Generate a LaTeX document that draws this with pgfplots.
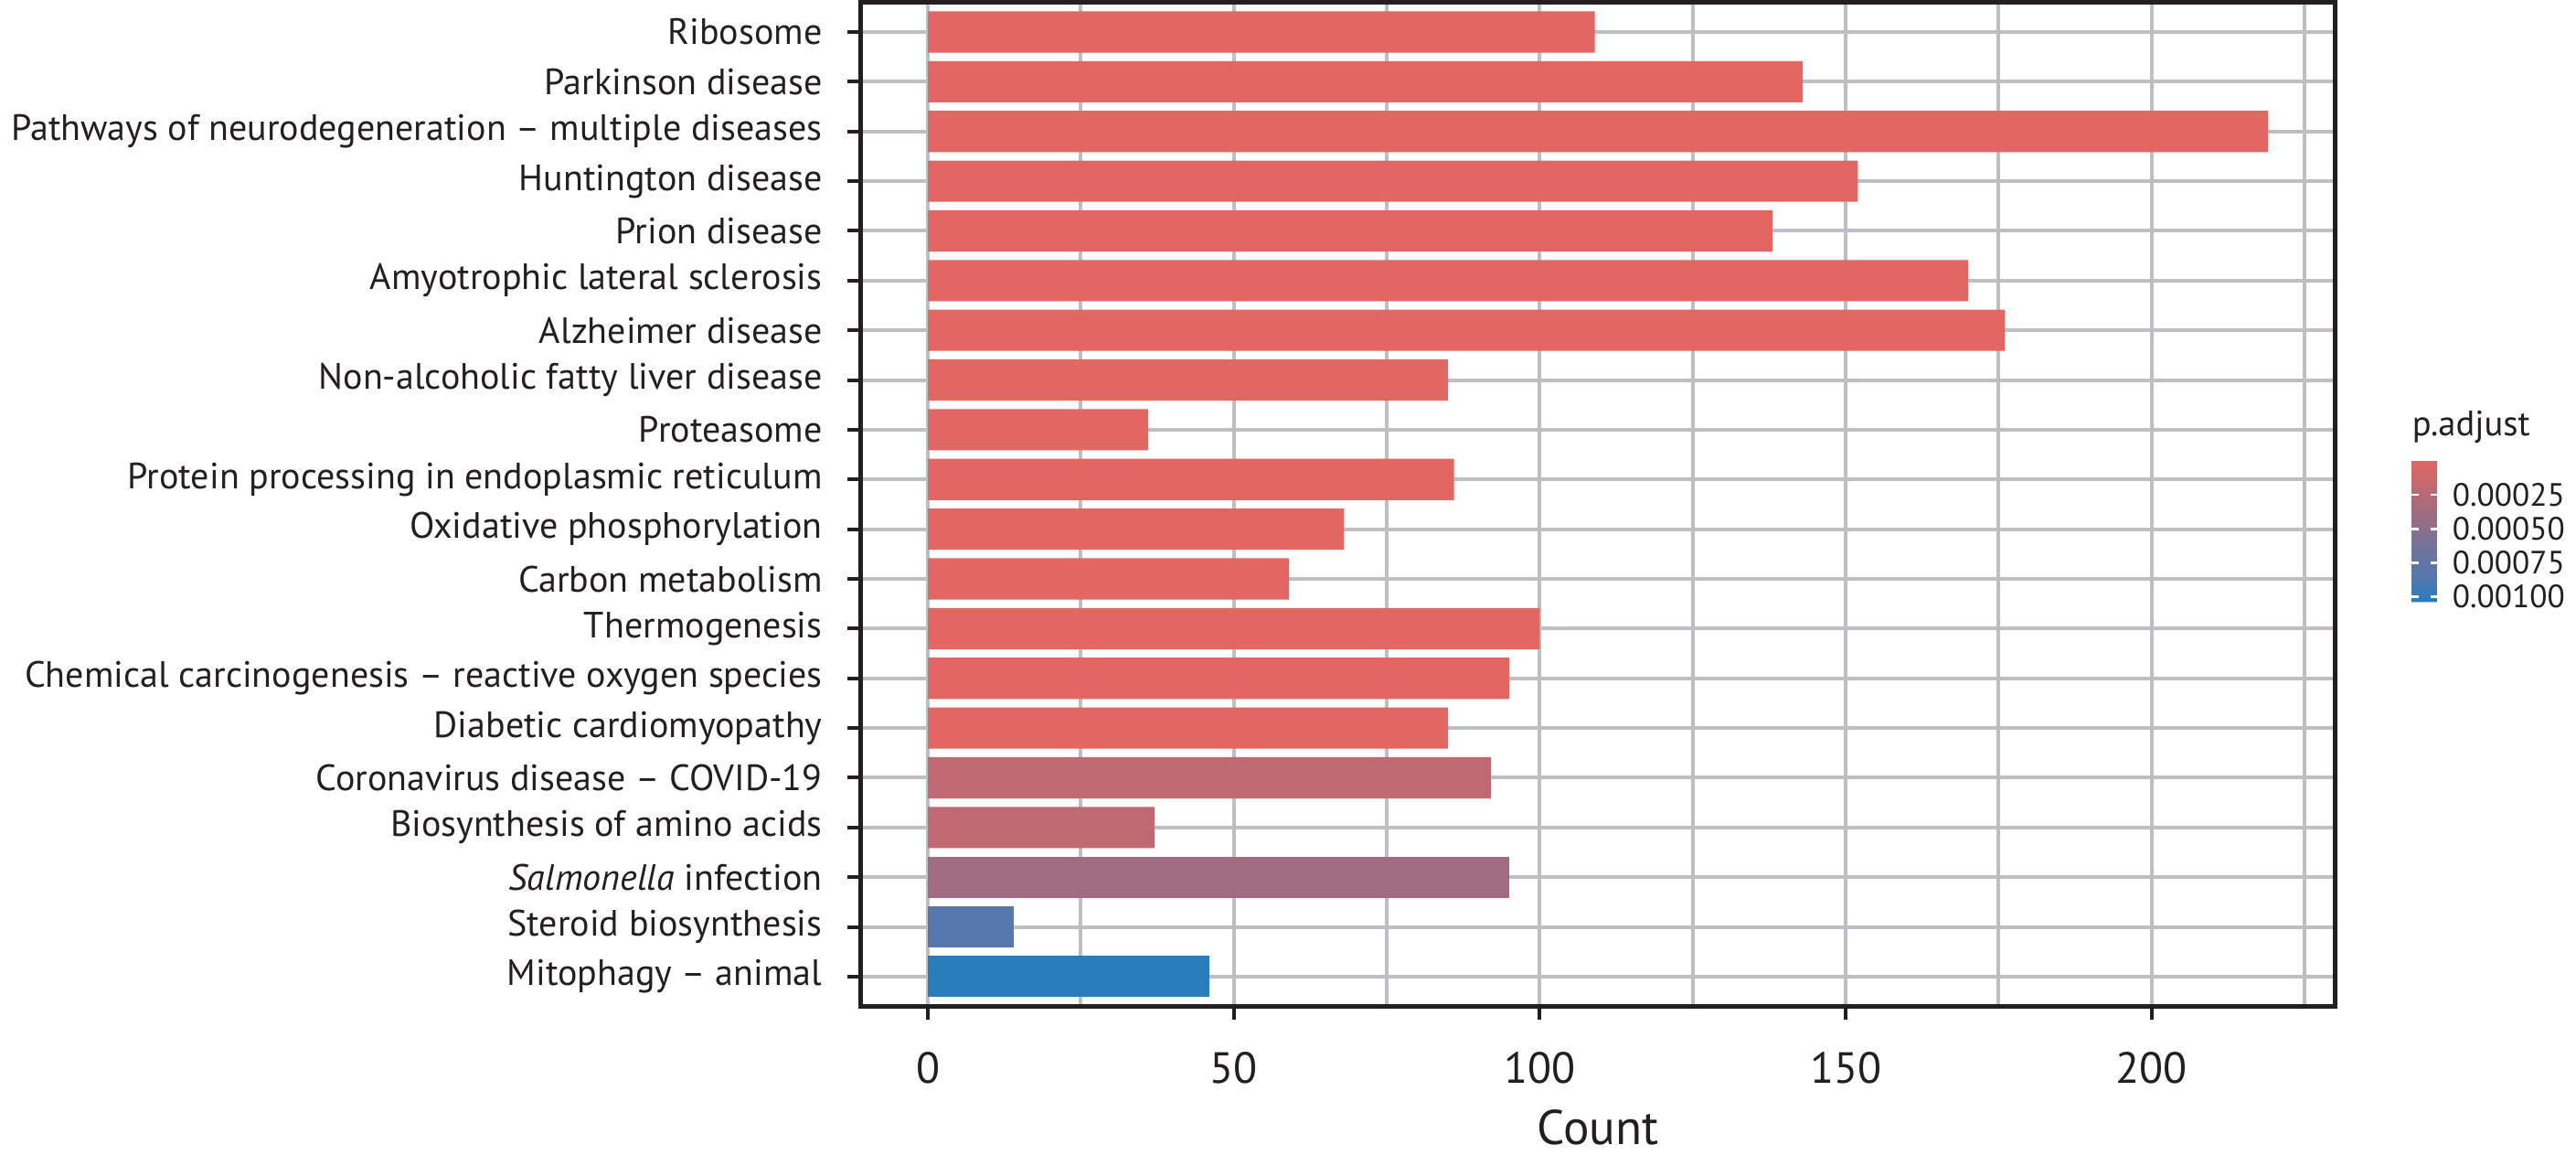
\documentclass[border=0pt]{standalone}
\usepackage{fontspec}
\setmainfont{PT Sans}
\usepackage{pgfplots}
\pgfplotsset{compat=1.18}

\definecolor{cR}{RGB}{226,103,99}
\definecolor{cC}{RGB}{191,106,115}
\definecolor{cS}{RGB}{162,108,128}
\definecolor{cT}{RGB}{87,119,171}
\definecolor{cB}{RGB}{40,125,189}
\definecolor{gridc}{RGB}{190,191,196}
\definecolor{axc}{RGB}{35,31,32}

\begin{document}
\begin{tikzpicture}
\begin{axis}[
  scale only axis, width=439pt, height=299pt,
  xmin=-10.95, xmax=229.95, ymin=0.4, ymax=20.6, y dir=reverse,
  xtick={0,50,100,150,200}, minor xtick={25,75,125,175,225},
  ytick={1,...,20},
  yticklabels={Ribosome, Parkinson disease, Pathways of neurodegeneration – multiple diseases, Huntington disease, Prion disease, Amyotrophic lateral sclerosis, Alzheimer disease, Non-alcoholic fatty liver disease, Proteasome, Protein processing in endoplasmic reticulum, Oxidative phosphorylation, Carbon metabolism, Thermogenesis, Chemical carcinogenesis – reactive oxygen species, Diabetic cardiomyopathy, Coronavirus disease – COVID-19, Biosynthesis of amino acids, \textit{Salmonella} infection, Steroid biosynthesis, Mitophagy – animal},
  grid=both,
  major grid style={gridc, line width=1.1pt},
  minor grid style={gridc, line width=1.1pt},
  tick align=outside, tick pos=left,
  major tick length=4pt, minor tick length=0pt,
  tick style={axc, line width=1.1pt},
  axis line style={axc, line width=1.3pt},
  /pgf/number format/assume math mode=true,
  yticklabel style={font=\fontsize{10.9}{12}\selectfont, text=axc},
  xticklabel style={font=\fontsize{13}{15}\selectfont, text=axc},
  yticklabel shift=4pt,
  xticklabel shift=6pt,
  xlabel={Count},
  xlabel style={font=\fontsize{14.5}{17}\selectfont, text=axc, at={(axis description cs:0.5,0)}, anchor=base, yshift=-41pt, text depth=3pt},
  point meta min=0, point meta max=0.00104,
  colormap={padj}{rgb255=(226,103,99) rgb255=(210,105,107) rgb255=(191,106,115) rgb255=(177,107,121) rgb255=(162,108,128) rgb255=(146,110,138) rgb255=(129,113,148) rgb255=(112,115,157) rgb255=(96,117,165) rgb255=(87,119,171) rgb255=(64,122,180) rgb255=(40,125,189)},
  colorbar sampled,
  colorbar style={
    at={(parent axis.north east)}, anchor=north west, xshift=14.3pt, yshift=-136.6pt,
    width=7.7pt, height=42pt,
    samples=80,
    y dir=reverse,
    ytick={0.00025,0.0005,0.00075,0.001},
    yticklabels={0.00025,0.00050,0.00075,0.00100},
    scaled y ticks=false,
    ytick pos=both, yticklabel pos=right, tick align=inside,
    major tick length=2.1pt, tick style={white, line width=0.7pt},
    axis line style={draw=none},
    yticklabel style={font=\fontsize{9.6}{11}\selectfont, text=axc},
    yticklabel shift=1pt,
    title={p.adjust},
    title style={at={(0,1)}, anchor=base west, yshift=1.4pt, inner sep=0pt, font=\fontsize{10.5}{12}\selectfont, text=axc},
  },
]
\addplot[xbar, bar width=0.83, bar shift=0pt, fill=cR, draw=none] coordinates {
  (109,1) (143,2) (219,3) (152,4) (138,5) (170,6) (176,7) (85,8) (36,9) (86,10)
  (68,11) (59,12) (100,13) (95,14) (85,15)};
\addplot[xbar, bar width=0.83, bar shift=0pt, fill=cC, draw=none] coordinates {
  (92,16) (37,17)};
\addplot[xbar, bar width=0.83, bar shift=0pt, fill=cS, draw=none] coordinates {
  (95,18)};
\addplot[xbar, bar width=0.83, bar shift=0pt, fill=cT, draw=none] coordinates {
  (14,19)};
\addplot[xbar, bar width=0.83, bar shift=0pt, fill=cB, draw=none] coordinates {
  (46,20)};
\end{axis}
\end{tikzpicture}
\end{document}
